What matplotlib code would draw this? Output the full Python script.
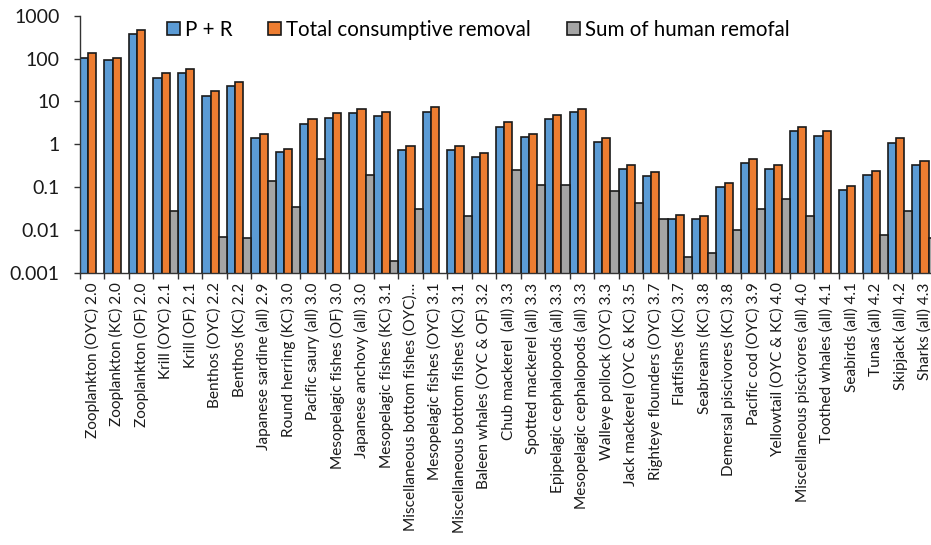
import numpy as np
import matplotlib
matplotlib.use("Agg")
import matplotlib.pyplot as plt
from matplotlib.patches import Patch
from matplotlib.ticker import FixedLocator, NullLocator

categories = [
    "Zooplankton (OYC) 2.0", "Zooplankton (KC) 2.0", "Zooplankton (OF) 2.0",
    "Krill (OYC) 2.1", "Krill (OF) 2.1", "Benthos (OYC) 2.2", "Benthos (KC) 2.2",
    "Japanese sardine (all) 2.9", "Round herring (KC) 3.0", "Pacific saury (all) 3.0",
    "Mesopelagic fishes (OF) 3.0", "Japanese anchovy (all) 3.0",
    "Mesopelagic fishes (KC) 3.1", "Miscellaneous bottom fishes (OYC)\u2026",
    "Mesopelagic fishes (OYC) 3.1", "Miscellaneous bottom fishes (KC) 3.1",
    "Baleen whales (OYC & OF) 3.2", "Chub mackerel  (all) 3.3",
    "Spotted mackerel (all) 3.3", "Epipelagic cephalopods (all) 3.3",
    "Mesopelagic cephalopods (all) 3.3", "Walleye pollock (OYC) 3.3",
    "Jack mackerel (OYC & KC) 3.5", "Righteye flounders (OYC) 3.7",
    "Flatfishes (KC) 3.7", "Seabreams (KC) 3.8", "Demersal piscivores (KC) 3.8",
    "Pacific cod (OYC) 3.9", "Yellowtail (OYC & KC) 4.0",
    "Miscellaneous piscivores (all) 4.0", "Toothed whales (all) 4.1",
    "Seabirds (all) 4.1", "Tunas (all) 4.2", "Skipjack (all) 4.2", "Sharks (all) 4.3",
]

p_plus_r = [
    103, 91, 374, 35, 45, 13.4, 23.3,
    1.37, 0.67, 3.0, 4.1, 5.3, 4.6, 0.73, 5.65, 0.73,
    0.49, 2.56, 1.47, 3.8, 5.65, 1.11, 0.264, 0.178,
    0.018, 0.018, 0.102, 0.358, 0.26, 2.03, 1.58,
    0.087, 0.188, 1.08, 0.327,
]

total_removal = [
    132, 105, 472, 45, 56, 17.2, 27.9,
    1.76, 0.785, 3.81, 5.26, 6.64, 5.65, 0.92, 7.27, 0.92,
    0.635, 3.24, 1.76, 4.9, 6.53, 1.37, 0.327, 0.228,
    0.0226, 0.0207, 0.126, 0.452, 0.327, 2.56, 2.0,
    0.107, 0.24, 1.37, 0.412,
]

nan = np.nan
human_removal = [
    nan, nan, nan, 0.028, nan, 0.0068, 0.0064,
    0.141, 0.034, 0.45, nan, 0.19, 0.0019, 0.031, nan, 0.021,
    nan, 0.246, 0.11, 0.11, nan, 0.081, 0.043, 0.018,
    0.0023, 0.0029, 0.0101, 0.031, 0.053, 0.0207, nan,
    nan, 0.0075, 0.028, 0.0064,
]

series_names = ["P + R", "Total consumptive removal", "Sum of human remofal"]
colors = ["#5B9BD5", "#ED7D31", "#A5A5A5"]
edge = "#1a1a1a"

y_ticks = [0.001, 0.01, 0.1, 1, 10, 100, 1000]
y_ticklabels = ["0.001", "0.01", "0.1", "1", "10", "100", "1000"]

plt.rcParams['font.family'] = ['Lato', 'DejaVu Sans']

W, H = 931, 545
fig = plt.figure(figsize=(W / 100, H / 100), dpi=100)
ax = fig.add_axes([80 / W, (H - 272.7) / H, 851 / W, (272.7 - 15.7) / H])
ax.set_yscale('log')

n = len(categories)
x = np.arange(n)
w = 1 / 3
for k, (vals, col, name) in enumerate(zip([p_plus_r, total_removal, human_removal],
                                           colors, series_names)):
    ax.bar(x + (k + 0.5) * w, vals, width=w, color=col, edgecolor=edge,
           linewidth=1.2, label=name, zorder=2)

ax.set_ylim(0.001, 1000)
ax.set_xlim(0, 851 / 24.48)

# y axis
ax.yaxis.set_major_locator(FixedLocator(y_ticks))
ax.yaxis.set_minor_locator(NullLocator())
ax.set_yticklabels(y_ticklabels)
ax.tick_params(axis='y', which='major', direction='out', length=4.5, width=1,
               pad=10, labelsize=14, color='#333333', labelcolor='#1a1a1a')

# x axis: boundary ticks, labels at category centres
ax.xaxis.set_major_locator(FixedLocator(np.arange(0, n + 1)))
ax.xaxis.set_major_formatter(plt.NullFormatter())
ax.set_xticks(x + 0.5, minor=True)
ax.set_xticklabels(categories, minor=True, rotation=90, fontsize=11.1,
                   color='#1a1a1a', ha='center', va='top')
ax.tick_params(axis='x', which='major', direction='out', length=4.5, width=1,
               color='#333333')
ax.tick_params(axis='x', which='minor', length=0, pad=7)

for side in ('top', 'right'):
    ax.spines[side].set_visible(False)
for side in ('left', 'bottom'):
    ax.spines[side].set_color('#333333')
    ax.spines[side].set_linewidth(1)

handles = [Patch(facecolor=c, edgecolor=edge, linewidth=1.2) for c in colors]
fig.legend(handles, series_names, loc='center left',
           bbox_to_anchor=(167 / W, 1 - 30 / H), ncol=3, frameon=False,
           fontsize=14.8, handlelength=0.62, handleheight=0.62,
           handletextpad=0.25, columnspacing=1.75, borderaxespad=0,
           borderpad=0)

fig.savefig("out.png", dpi=100)
